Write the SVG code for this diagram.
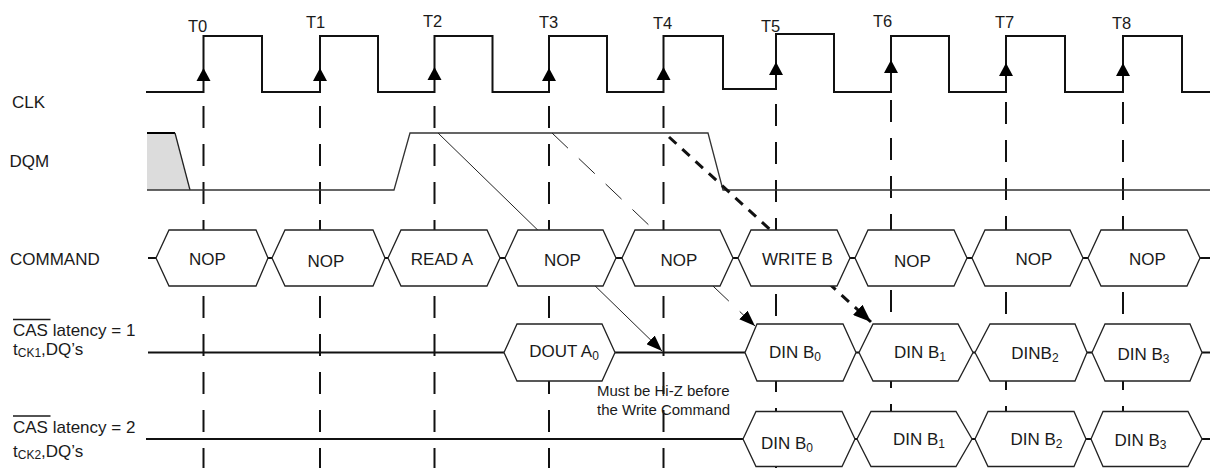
<svg xmlns="http://www.w3.org/2000/svg" width="1210" height="468" viewBox="0 0 1210 468">
<defs>
<style>
text{font-family:"Liberation Sans",Arial,sans-serif;fill:#1a1a1a}
.lbl{font-size:17px}
.tl{font-size:16.5px}
.note{font-size:15px}
.sub{font-size:12px}
.grid{stroke:#111;stroke-width:2;stroke-dasharray:22 16;fill:none}
.sig{stroke:#111;stroke-width:2;fill:none}
.thin{stroke:#333;stroke-width:1.3;fill:none}
.box{fill:#fff;stroke:#222;stroke-width:1.3}
.clkarr{fill:#000}
</style>
<marker id="ah" markerUnits="userSpaceOnUse" markerWidth="16" markerHeight="12" refX="16" refY="6" orient="auto"><path d="M0,0 L16,6 L0,12 z" fill="#000"/></marker>
<marker id="ahb" markerUnits="userSpaceOnUse" markerWidth="18" markerHeight="14" refX="18" refY="7" orient="auto"><path d="M0,0 L18,7 L0,14 z" fill="#000"/></marker>
</defs>
<rect width="1210" height="468" fill="#fff"/>

<g id="gridlines">
<line class="grid" x1="203.5" y1="106" x2="203.5" y2="468"/>
<line class="grid" x1="320" y1="106" x2="320" y2="468"/>
<line class="grid" x1="434.5" y1="106" x2="434.5" y2="468"/>
<line class="grid" x1="549" y1="106" x2="549" y2="468"/>
<line class="grid" x1="663.5" y1="106" x2="663.5" y2="468"/>
<line class="grid" x1="776" y1="104" x2="776" y2="468"/>
<line class="grid" x1="891" y1="100" x2="891" y2="468"/>
<line class="grid" x1="1006" y1="102" x2="1006" y2="468"/>
<line class="grid" x1="1123" y1="102" x2="1123" y2="468"/>
</g>

<g id="clk-signal">
<path class="sig" d="M146,92 H203.5 V36 H262 V92 H320 V36 H378 V92 H434.5 V36 H492.5 V92 H549 V36 H607 V92 H663.5 V36 H723 V89 H776 V34 H834 V92 H891 V36 H949 V92 H1006 V36 H1065 V92 H1123 V36 H1182 V92 H1210"/>
<g class="clkarr">
<path d="M203.5,68 L196.5,81 L210.5,81 z"/>
<path d="M320,68 L313,81 L327,81 z"/>
<path d="M434.5,67 L427.5,80 L441.5,80 z"/>
<path d="M549,68 L542,81 L556,81 z"/>
<path d="M663.5,67 L656.5,80 L670.5,80 z"/>
<path d="M776,62 L769,75 L783,75 z"/>
<path d="M891,60 L884,73 L898,73 z"/>
<path d="M1006,63 L999,76 L1013,76 z"/>
<path d="M1123,63 L1116,76 L1130,76 z"/>
</g>
</g>

<g id="dqm-signal">
<polygon points="147,133 175,133 190,190 147,190" fill="#dcdcdc"/>
<line x1="147" y1="133" x2="175" y2="133" stroke="#000" stroke-width="2"/>
<line x1="175" y1="133" x2="190" y2="190" stroke="#222" stroke-width="1.3"/>
<polyline class="thin" points="147,190 394,190 410,133 708,133 723,190 1210,190"/>
</g>

<g id="row-lines">
<line class="sig" x1="148" y1="258" x2="1210" y2="258" stroke-width="1.5"/>
<line class="sig" x1="148" y1="352.5" x2="1210" y2="352.5"/>
<line class="sig" x1="146" y1="439" x2="1210" y2="439"/>
</g>

<g id="connectors">
<line x1="438" y1="133" x2="662" y2="351" stroke="#222" stroke-width="1" marker-end="url(#ah)"/>
<line x1="552" y1="133" x2="755" y2="326" stroke="#222" stroke-width="1" stroke-dasharray="22 15" marker-end="url(#ah)"/>
<line x1="669" y1="137" x2="871" y2="322" stroke="#111" stroke-width="3" stroke-dasharray="10 8" marker-end="url(#ahb)"/>
</g>

<g id="cmd-nop-0"><path class="box" d="M156,258 L169,230 L256,230 L268,258 L256,286 L169,286 z"/><text class="lbl" x="207.5" y="265" text-anchor="middle">NOP</text></g>
<g id="cmd-nop-1"><path class="box" d="M272,258 L285,230 L373,230 L385,258 L373,286 L285,286 z"/><text class="lbl" x="326" y="267" text-anchor="middle">NOP</text></g>
<g id="cmd-read-a"><path class="box" d="M388,258 L401,230 L487,230 L500,258 L487,286 L401,286 z"/><text class="lbl" x="442" y="265" text-anchor="middle">READ A</text></g>
<g id="cmd-nop-3"><path class="box" d="M505,258 L518,230 L603,230 L616,258 L603,286 L518,286 z"/><text class="lbl" x="562.5" y="266" text-anchor="middle">NOP</text></g>
<g id="cmd-nop-4"><path class="box" d="M622,258 L635,230 L720,230 L733,258 L720,286 L635,286 z"/><text class="lbl" x="679" y="266" text-anchor="middle">NOP</text></g>
<g id="cmd-write-b"><path class="box" d="M738,258 L751,230 L837,230 L850,258 L837,286 L751,286 z"/><text class="lbl" x="797.5" y="265" text-anchor="middle">WRITE B</text></g>
<g id="cmd-nop-6"><path class="box" d="M855,258 L868,230 L954,230 L967,258 L954,286 L868,286 z"/><text class="lbl" x="912.5" y="267" text-anchor="middle">NOP</text></g>
<g id="cmd-nop-7"><path class="box" d="M972,258 L985,230 L1070,230 L1083,258 L1070,286 L985,286 z"/><text class="lbl" x="1034" y="265" text-anchor="middle">NOP</text></g>
<g id="cmd-nop-8"><path class="box" d="M1088,258 L1101,230 L1187,230 L1200,258 L1187,286 L1101,286 z"/><text class="lbl" x="1147.5" y="265" text-anchor="middle">NOP</text></g>

<g id="cl1-dout-a0"><path class="box" d="M504,352.5 L517,324 L602,324 L615,352.5 L602,381 L517,381 z"/><text class="lbl" x="564" y="357" text-anchor="middle">DOUT A<tspan class="sub" dy="3">0</tspan></text></g>
<g id="cl1-din-b0"><path class="box" d="M745,352.5 L757,324 L843,324 L856,352.5 L843,381 L757,381 z"/><text class="lbl" x="795" y="358" text-anchor="middle">DIN B<tspan class="sub" dy="3">0</tspan></text></g>
<g id="cl1-din-b1"><path class="box" d="M859,352.5 L873,324 L958,324 L973,352.5 L958,381 L873,381 z"/><text class="lbl" x="920" y="358" text-anchor="middle">DIN B<tspan class="sub" dy="3">1</tspan></text></g>
<g id="cl1-din-b2"><path class="box" d="M975,352.5 L990,324 L1075,324 L1087,352.5 L1075,381 L990,381 z"/><text class="lbl" x="1035" y="359" text-anchor="middle">DINB<tspan class="sub" dy="3">2</tspan></text></g>
<g id="cl1-din-b3"><path class="box" d="M1092,352.5 L1105,324 L1190,324 L1202,352.5 L1190,381 L1105,381 z"/><text class="lbl" x="1143.5" y="360" text-anchor="middle">DIN B<tspan class="sub" dy="3">3</tspan></text></g>

<g id="cl2-din-b0"><path class="box" d="M743,439 L756,411.5 L842,411.5 L855,439 L842,466.5 L756,466.5 z"/><text class="lbl" x="787" y="449" text-anchor="middle">DIN B<tspan class="sub" dy="3">0</tspan></text></g>
<g id="cl2-din-b1"><path class="box" d="M857,439 L871,411.5 L956,411.5 L972,439 L956,466.5 L871,466.5 z"/><text class="lbl" x="919" y="445" text-anchor="middle">DIN B<tspan class="sub" dy="3">1</tspan></text></g>
<g id="cl2-din-b2"><path class="box" d="M975,439 L988,411.5 L1074,411.5 L1086,439 L1074,466.5 L988,466.5 z"/><text class="lbl" x="1036.5" y="445" text-anchor="middle">DIN B<tspan class="sub" dy="3">2</tspan></text></g>
<g id="cl2-din-b3"><path class="box" d="M1091,439 L1103,411.5 L1188,411.5 L1202,439 L1188,466.5 L1103,466.5 z"/><text class="lbl" x="1140.5" y="446" text-anchor="middle">DIN B<tspan class="sub" dy="3">3</tspan></text></g>

<g id="clock-labels">
<text class="tl" x="188" y="32">T0</text>
<text class="tl" x="306" y="28">T1</text>
<text class="tl" x="423" y="27">T2</text>
<text class="tl" x="539" y="28">T3</text>
<text class="tl" x="653" y="29">T4</text>
<text class="tl" x="761" y="32">T5</text>
<text class="tl" x="873" y="27">T6</text>
<text class="tl" x="995" y="28">T7</text>
<text class="tl" x="1112" y="29">T8</text>
</g>

<g id="signal-labels">
<text class="lbl" x="12" y="108">CLK</text>
<text class="lbl" x="9.5" y="167">DQM</text>
<text class="lbl" x="10" y="265">COMMAND</text>
<line x1="13" y1="319.5" x2="50.5" y2="319.5" stroke="#1a1a1a" stroke-width="1.3"/>
<text class="lbl" x="13" y="336">CAS latency = 1</text>
<text class="lbl" x="13" y="355">t<tspan class="sub" dy="2">CK1</tspan><tspan dy="-2">,DQ’s</tspan></text>
<line x1="13" y1="416" x2="50.5" y2="416" stroke="#1a1a1a" stroke-width="1.3"/>
<text class="lbl" x="13" y="433">CAS latency = 2</text>
<text class="lbl" x="13" y="457">t<tspan class="sub" dy="2">CK2</tspan><tspan dy="-2">,DQ’s</tspan></text>
</g>

<g id="note">
<text class="note" x="597" y="396">Must be Hi-Z before</text>
<text class="note" x="597" y="415">the Write Command</text>
</g>
</svg>
